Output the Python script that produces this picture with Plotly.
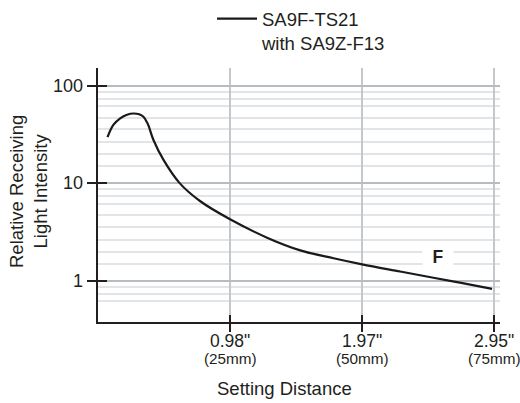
import math
import plotly.graph_objects as go

# distance in mm, relative receiving light intensity
distance_mm = [1.8, 2.9, 4.2, 5.5, 6.7, 7.8, 8.6, 9.3, 9.6, 10.5, 12.4, 15.5, 19.3, 25.0,
               32.0, 38.3, 44.6, 50.0, 57.2, 63.5, 69.0, 74.6]
intensity = [29.7, 39.7, 46.4, 50.5, 52.0, 51.0, 48.2, 42.0, 38.5, 27.8, 17.4, 10.0, 6.6, 4.29,
             2.78, 2.06, 1.71, 1.48, 1.25, 1.08, 0.95, 0.83]

x_tick_vals = [25, 50, 75]
x_tick_inch = ['0.98"', '1.97"', '2.95"']
x_tick_mm = ["(25mm)", "(50mm)", "(75mm)"]
y_tick_vals = [1, 10, 100]
y_tick_text = ["1", "10", "100"]
minor_grid_vals = [0.62, 0.74, 0.87, 1.5, 2.0, 2.65, 3.6, 4.7, 6.2, 7.4, 8.7,
                   15, 20, 26.5, 36, 47, 62, 74, 87]

series_name = "SA9F-TS21<br>with SA9Z-F13"
x_title = "Setting Distance"
y_title = "Relative Receiving<br>Light Intensity"
zone_label = "F"
zone_label_pos = (64.3, 1.77)

FONT = "Liberation Sans, Arial, sans-serif"
TXT = "#231f20"
AX = "#231f20"

XR = [0, 76.1]
YR = [-0.42, 2.182]

fig = go.Figure()
fig.add_trace(go.Scatter(x=distance_mm, y=intensity, mode="lines", name=series_name,
                         line=dict(color="#1a1a1a", width=2.2, shape="spline", smoothing=1.0)))
# invisible helper trace for overlay axes (crossing ticks)
fig.add_trace(go.Scatter(x=[distance_mm[0]], y=[intensity[0]], xaxis="x2", yaxis="y2",
                         mode="markers", marker=dict(opacity=0), showlegend=False, hoverinfo="skip"))

fig.update_layout(
    width=520, height=403,
    margin=dict(l=98, r=20, t=68, b=81, autoexpand=False),
    paper_bgcolor="white", plot_bgcolor="white",
    font=dict(family=FONT, size=18, color=TXT),
    showlegend=True,
    legend=dict(x=212 / 520, xref="container", xanchor="left", y=1, yref="container", yanchor="top",
                valign="top", font=dict(size=18.5, color=TXT), bgcolor="rgba(0,0,0,0)",
                itemwidth=40, tracegroupgap=0),
    xaxis=dict(range=XR, tickmode="array", tickvals=x_tick_vals, showticklabels=False,
               showgrid=True, gridcolor="#c4c8cc", gridwidth=1.5,
               showline=True, linecolor=AX, linewidth=2,
               ticks="outside", ticklen=8, tickcolor=AX, tickwidth=1.5,
               zeroline=False, automargin=False),
    yaxis=dict(type="log", range=YR, tickmode="array", tickvals=y_tick_vals, showticklabels=False,
               showgrid=True, gridcolor="#b8bcc0", gridwidth=1.5,
               showline=True, linecolor=AX, linewidth=2,
               ticks="outside", ticklen=9, tickcolor=AX, tickwidth=1.5,
               zeroline=False, automargin=False,
               minor=dict(tickmode="array", tickvals=minor_grid_vals, showgrid=True,
                          gridcolor="#e2e5e8", gridwidth=1.5, ticks="")),
    xaxis2=dict(range=XR, overlaying="x", anchor="y2", tickmode="array", tickvals=x_tick_vals,
                showticklabels=False, showgrid=False, zeroline=False, showline=False,
                ticks="inside", ticklen=7, tickcolor=AX, tickwidth=1.5, side="bottom"),
    yaxis2=dict(type="log", range=YR, overlaying="y", anchor="x2", tickmode="array",
                tickvals=y_tick_vals, showticklabels=False, showgrid=False, zeroline=False,
                showline=False, ticks="inside", ticklen=9, tickcolor=AX, tickwidth=1.5, side="left"),
)

# plot-area pixel geometry helpers (plot spans x 98..500, y 68..322)
def px_x(p):
    return (p - 98) / 402.0

def px_y(p):
    return (322 - p) / 254.0

# x tick labels (two lines: inches and mm)
for v, a, b in zip(x_tick_vals, x_tick_inch, x_tick_mm):
    fig.add_annotation(x=v, xref="x", y=px_y(340.5), yref="paper", text=a, showarrow=False,
                       xanchor="center", yanchor="middle", font=dict(size=17.5, color=TXT))
    fig.add_annotation(x=v, xref="x", y=px_y(358), yref="paper", text=b, showarrow=False,
                       xanchor="center", yanchor="middle", font=dict(size=15.3, color=TXT))

# y tick labels (log axis: annotation y is log10 of the value)
for v, t in zip(y_tick_vals, y_tick_text):
    fig.add_annotation(x=px_x(85), xref="paper", y=math.log10(v), yref="y", text=t, showarrow=False,
                       xanchor="right", yanchor="middle", font=dict(size=18, color=TXT))

# axis titles
fig.add_annotation(x=px_x(284), xref="paper", y=px_y(388), yref="paper", text=x_title,
                   showarrow=False, xanchor="center", yanchor="middle", font=dict(size=18.5, color=TXT))
fig.add_annotation(x=px_x(28), xref="paper", y=px_y(192), yref="paper", text=y_title,
                   showarrow=False, textangle=-90, xanchor="center", yanchor="middle",
                   font=dict(size=18.5, color=TXT))

fig.add_annotation(x=zone_label_pos[0], y=math.log10(zone_label_pos[1]), xref="x", yref="y",
                   text=f"<b>{zone_label}</b>", showarrow=False,
                   font=dict(size=17.5, color=TXT), bgcolor="white", width=28, height=20)

fig.write_html("out.html")
